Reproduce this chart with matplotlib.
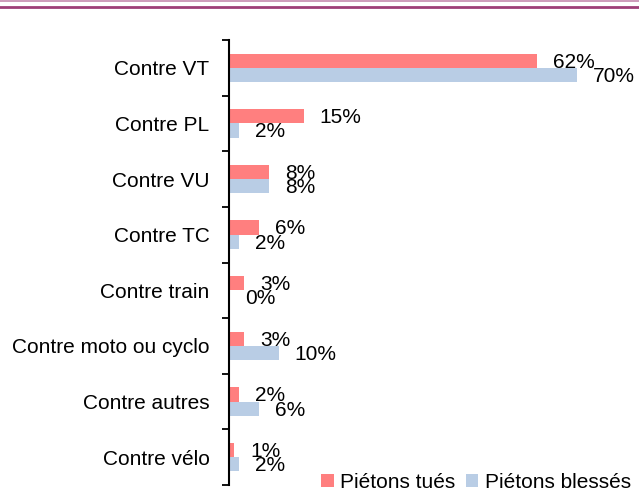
import matplotlib.pyplot as plt
from matplotlib.lines import Line2D
import numpy as np

plt.rcParams['font.family'] = ['Liberation Sans', 'DejaVu Sans']

categories = ['Contre VT', 'Contre PL', 'Contre VU', 'Contre TC', 'Contre train',
              'Contre moto ou cyclo', 'Contre autres', 'Contre vélo']
tues = [62, 15, 8, 6, 3, 3, 2, 1]
blesses = [70, 2, 8, 2, 0, 10, 6, 2]

red = '#ff7f7f'
blue = '#b9cde5'

fig = plt.figure(figsize=(6.39, 4.92), dpi=100)
ax = fig.add_axes([229 / 639, 1 - 485 / 492, 398 / 639, 445 / 492])

y = np.arange(len(categories))
h = 0.257
b1 = ax.barh(y - h / 2, tues, height=h, color=red, label='Piétons tués')
b2 = ax.barh(y + h / 2, blesses, height=h, color=blue, label='Piétons blessés')

for bars, vals in ((b1, tues), (b2, blesses)):
    for bar, v in zip(bars, vals):
        ax.annotate(f'{v}%', (bar.get_width(), bar.get_y() + bar.get_height() / 2),
                    xytext=(11.5, -1), textcoords='offset points',
                    ha='left', va='center', fontsize=15)

ax.set_xlim(0, 80)
ax.set_ylim(len(categories) - 0.5, -0.5)

# ticks between categories, labels centred on them
ax.set_yticks(np.arange(len(categories) + 1) - 0.5)
ax.set_yticklabels([])
ax.set_yticks(y, minor=True)
ax.set_yticklabels(categories, minor=True, fontsize=15)
ax.tick_params(axis='y', which='major', length=5, width=1.3, direction='out')
ax.tick_params(axis='y', which='minor', length=0, pad=14)
ax.set_xticks([])

for side in ('top', 'right', 'bottom'):
    ax.spines[side].set_visible(False)
ax.spines['left'].set_linewidth(1.5)

fig.legend(loc='lower right', bbox_to_anchor=(1.0, -0.016), ncol=2, frameon=False,
           fontsize=15, handlelength=0.6, handleheight=0.6, handletextpad=0.3,
           columnspacing=0.5, borderaxespad=0)

# header rules
fig.add_artist(Line2D([0, 1], [1 - 1 / 492, 1 - 1 / 492], color='#c58aae', lw=1.2))
fig.add_artist(Line2D([0, 1], [1 - 6.5 / 492, 1 - 6.5 / 492], color='#9e3f78', lw=2))

fig.savefig('out.png', dpi=100)
